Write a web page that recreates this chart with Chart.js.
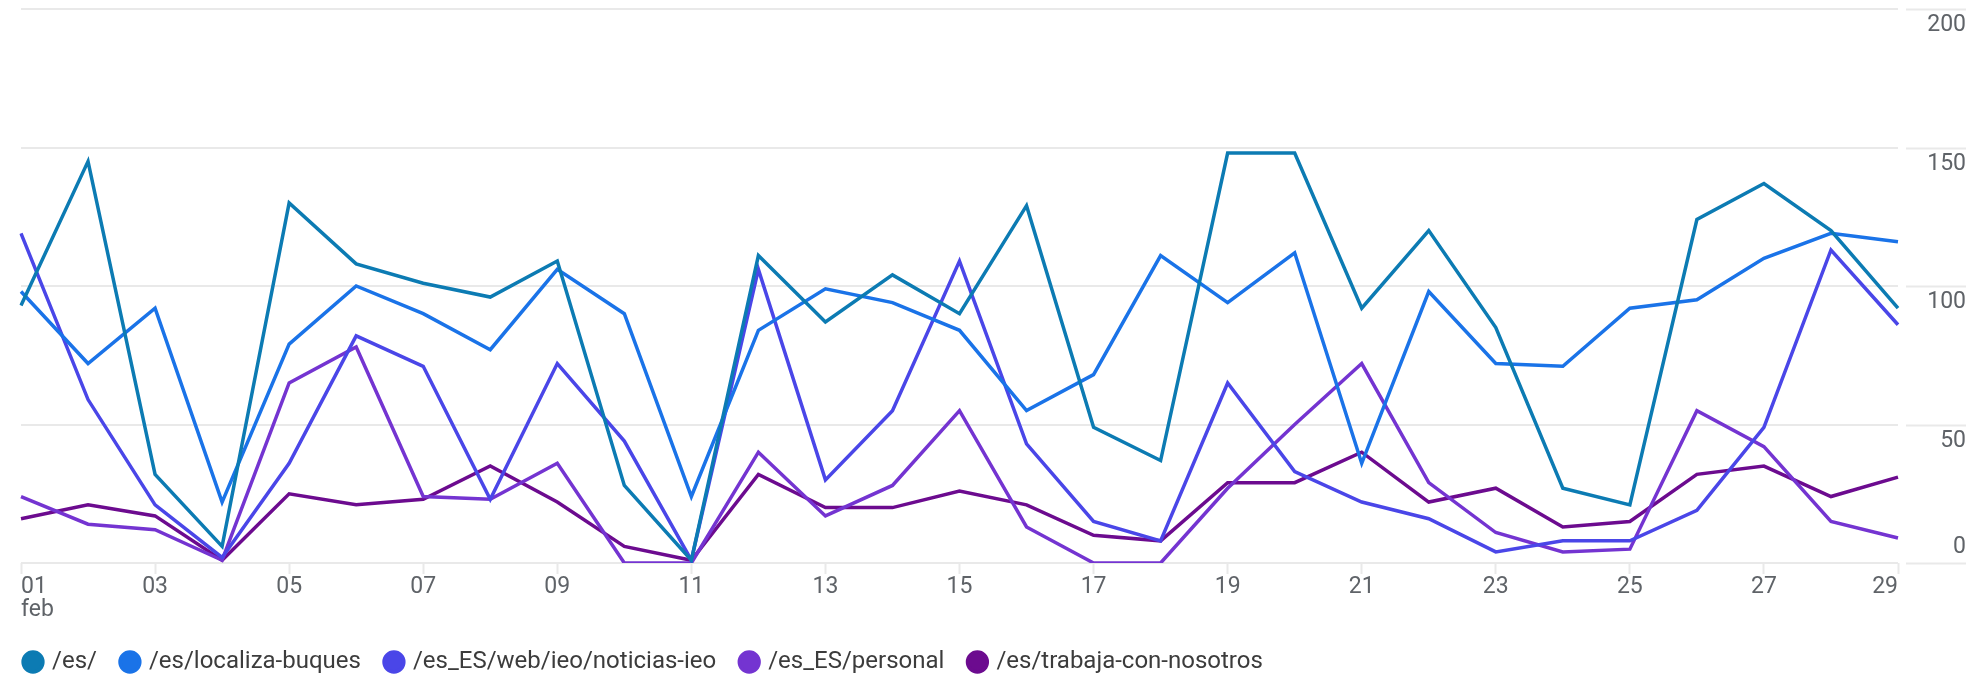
<!DOCTYPE html>
<html lang="es">
  <head>
    <meta charset="UTF-8" />
    <title>Páginas</title>
    <script src="https://cdn.jsdelivr.net/npm/chart.js"></script>
    <style>
      html,
      body {
        margin: 0;
        padding: 0;
        background: #fff;
        font-family: Roboto, Arial, sans-serif;
      }
      .chart-container {
        width: 1974px;
        height: 684px;
      }
    </style>
  </head>
  <body>
    <div class="chart-container">
      <canvas id="lineChart"></canvas>
    </div>

    <script>
      // Días de febrero
      const days = ["01","02","03","04","05","06","07","08","09","10","11","12","13","14","15",
                    "16","17","18","19","20","21","22","23","24","25","26","27","28","29"];
      const monthLabel = "feb";
      const yTicks = [0, 50, 100, 150, 200];

      const pages = ["/es/", "/es/localiza-buques", "/es_ES/web/ieo/noticias-ieo", "/es_ES/personal", "/es/trabaja-con-nosotros"];

      const esHome = [93, 145, 32, 6, 130, 108, 101, 96, 109, 28, 1, 111, 87, 104, 90,
                      129, 49, 37, 148, 148, 92, 120, 85, 27, 21, 124, 137, 120, 92];
      const localiza = [98, 72, 92, 22, 79, 100, 90, 77, 106, 90, 24, 84, 99, 94, 84,
                        55, 68, 111, 94, 112, 36, 98, 72, 71, 92, 95, 110, 119, 116];
      const noticias = [119, 59, 21, 2, 36, 82, 71, 23, 72, 44, 1, 106, 30, 55, 109,
                        43, 15, 8, 65, 33, 22, 16, 4, 8, 8, 19, 49, 113, 86];
      const personal = [24, 14, 12, 1, 65, 78, 24, 23, 36, 0, 0, 40, 17, 28, 55,
                        13, 0, 0, 27, 50, 72, 29, 11, 4, 5, 55, 42, 15, 9];
      const trabaja = [16, 21, 17, 1, 25, 21, 23, 35, 22, 6, 1, 32, 20, 20, 26,
                       21, 10, 8, 29, 29, 40, 22, 27, 13, 15, 32, 35, 24, 31];

      const colors = ["#0c7bb3", "#1a73e8", "#4a46e8", "#7434d1", "#6c0b8f"];

      const gridColor = "#e9e9e9";
      const tickTextColor = "#5f6368";

      // etiquetas del eje Y a la derecha, bajo cada línea (la del 0 encima)
      const rightAxisPlugin = {
        id: "rightAxis",
        afterDraw(chart) {
          const ctx = chart.ctx;
          const area = chart.chartArea;
          const y = chart.scales.y;
          const x0 = area.right + 8;
          const x1 = area.right + 68;
          ctx.save();
          ctx.font = "23px Roboto";
          ctx.fillStyle = tickTextColor;
          ctx.textAlign = "right";
          ctx.textBaseline = "middle";
          yTicks.forEach((v) => {
            const py = Math.round(y.getPixelForValue(v)) + 0.5;
            ctx.strokeStyle = gridColor;
            ctx.lineWidth = 2;
            ctx.beginPath();
            ctx.moveTo(x0, py);
            ctx.lineTo(x1, py);
            ctx.stroke();
            ctx.fillText(String(v), x1, v === 0 ? py - 16 : py + 16);
          });
          ctx.restore();
        },
      };

      const datasets = [esHome, localiza, noticias, personal, trabaja].map((d, i) => ({
        label: pages[i],
        data: d,
        yAxisID: "y",
        borderColor: colors[i],
        backgroundColor: colors[i],
        borderWidth: 3.5,
        pointRadius: 0,
        pointHoverRadius: 0,
        tension: 0,
        fill: false,
      }));

      const ctxLine = document.getElementById("lineChart").getContext("2d");
      new Chart(ctxLine, {
        type: "line",
        data: {
          labels: days,
          datasets: datasets,
        },
        plugins: [rightAxisPlugin],
        options: {
          responsive: true,
          maintainAspectRatio: false,
          animation: false,
          layout: {
            padding: { left: 0, right: 76, top: 9, bottom: 0 },
          },
          plugins: {
            tooltip: { enabled: false },
            legend: {
              position: "bottom",
              align: "start",
              labels: {
                usePointStyle: true,
                pointStyle: "circle",
                boxWidth: 14,
                boxHeight: 14,
                padding: 26,
                color: "#3c3c3c",
                font: { family: "Roboto", size: 24 },
              },
            },
          },
          scales: {
            x: {
              grid: {
                display: true,
                drawOnChartArea: false,
                drawTicks: true,
                tickLength: 11,
                tickWidth: 2,
                tickColor: (c) => (c.index % 2 === 0 ? gridColor : "rgba(0,0,0,0)"),
              },
              border: { display: false },
              ticks: {
                autoSkip: false,
                maxRotation: 0,
                align: "inner",
                padding: 2,
                color: tickTextColor,
                font: { family: "Roboto", size: 23, lineHeight: 1.0 },
                callback: function (val, index) {
                  if (index % 2 !== 0) return "";
                  const lab = this.getLabelForValue(val);
                  return index === 0 ? [lab, monthLabel] : lab;
                },
              },
            },
            y: {
              position: "right",
              min: 0,
              max: 200,
              grid: {
                color: gridColor,
                lineWidth: 2,
                drawTicks: false,
              },
              border: { display: false },
              ticks: {
                display: false,
                stepSize: 50,
              },
            },
            // marge gauche de la zone de tracé
            yl: {
              position: "left",
              display: true,
              grid: { display: false },
              border: { display: false },
              ticks: { display: false },
              afterFit(s) {
                s.width = 21;
              },
            },
          },
        },
      });
    </script>
  </body>
</html>
